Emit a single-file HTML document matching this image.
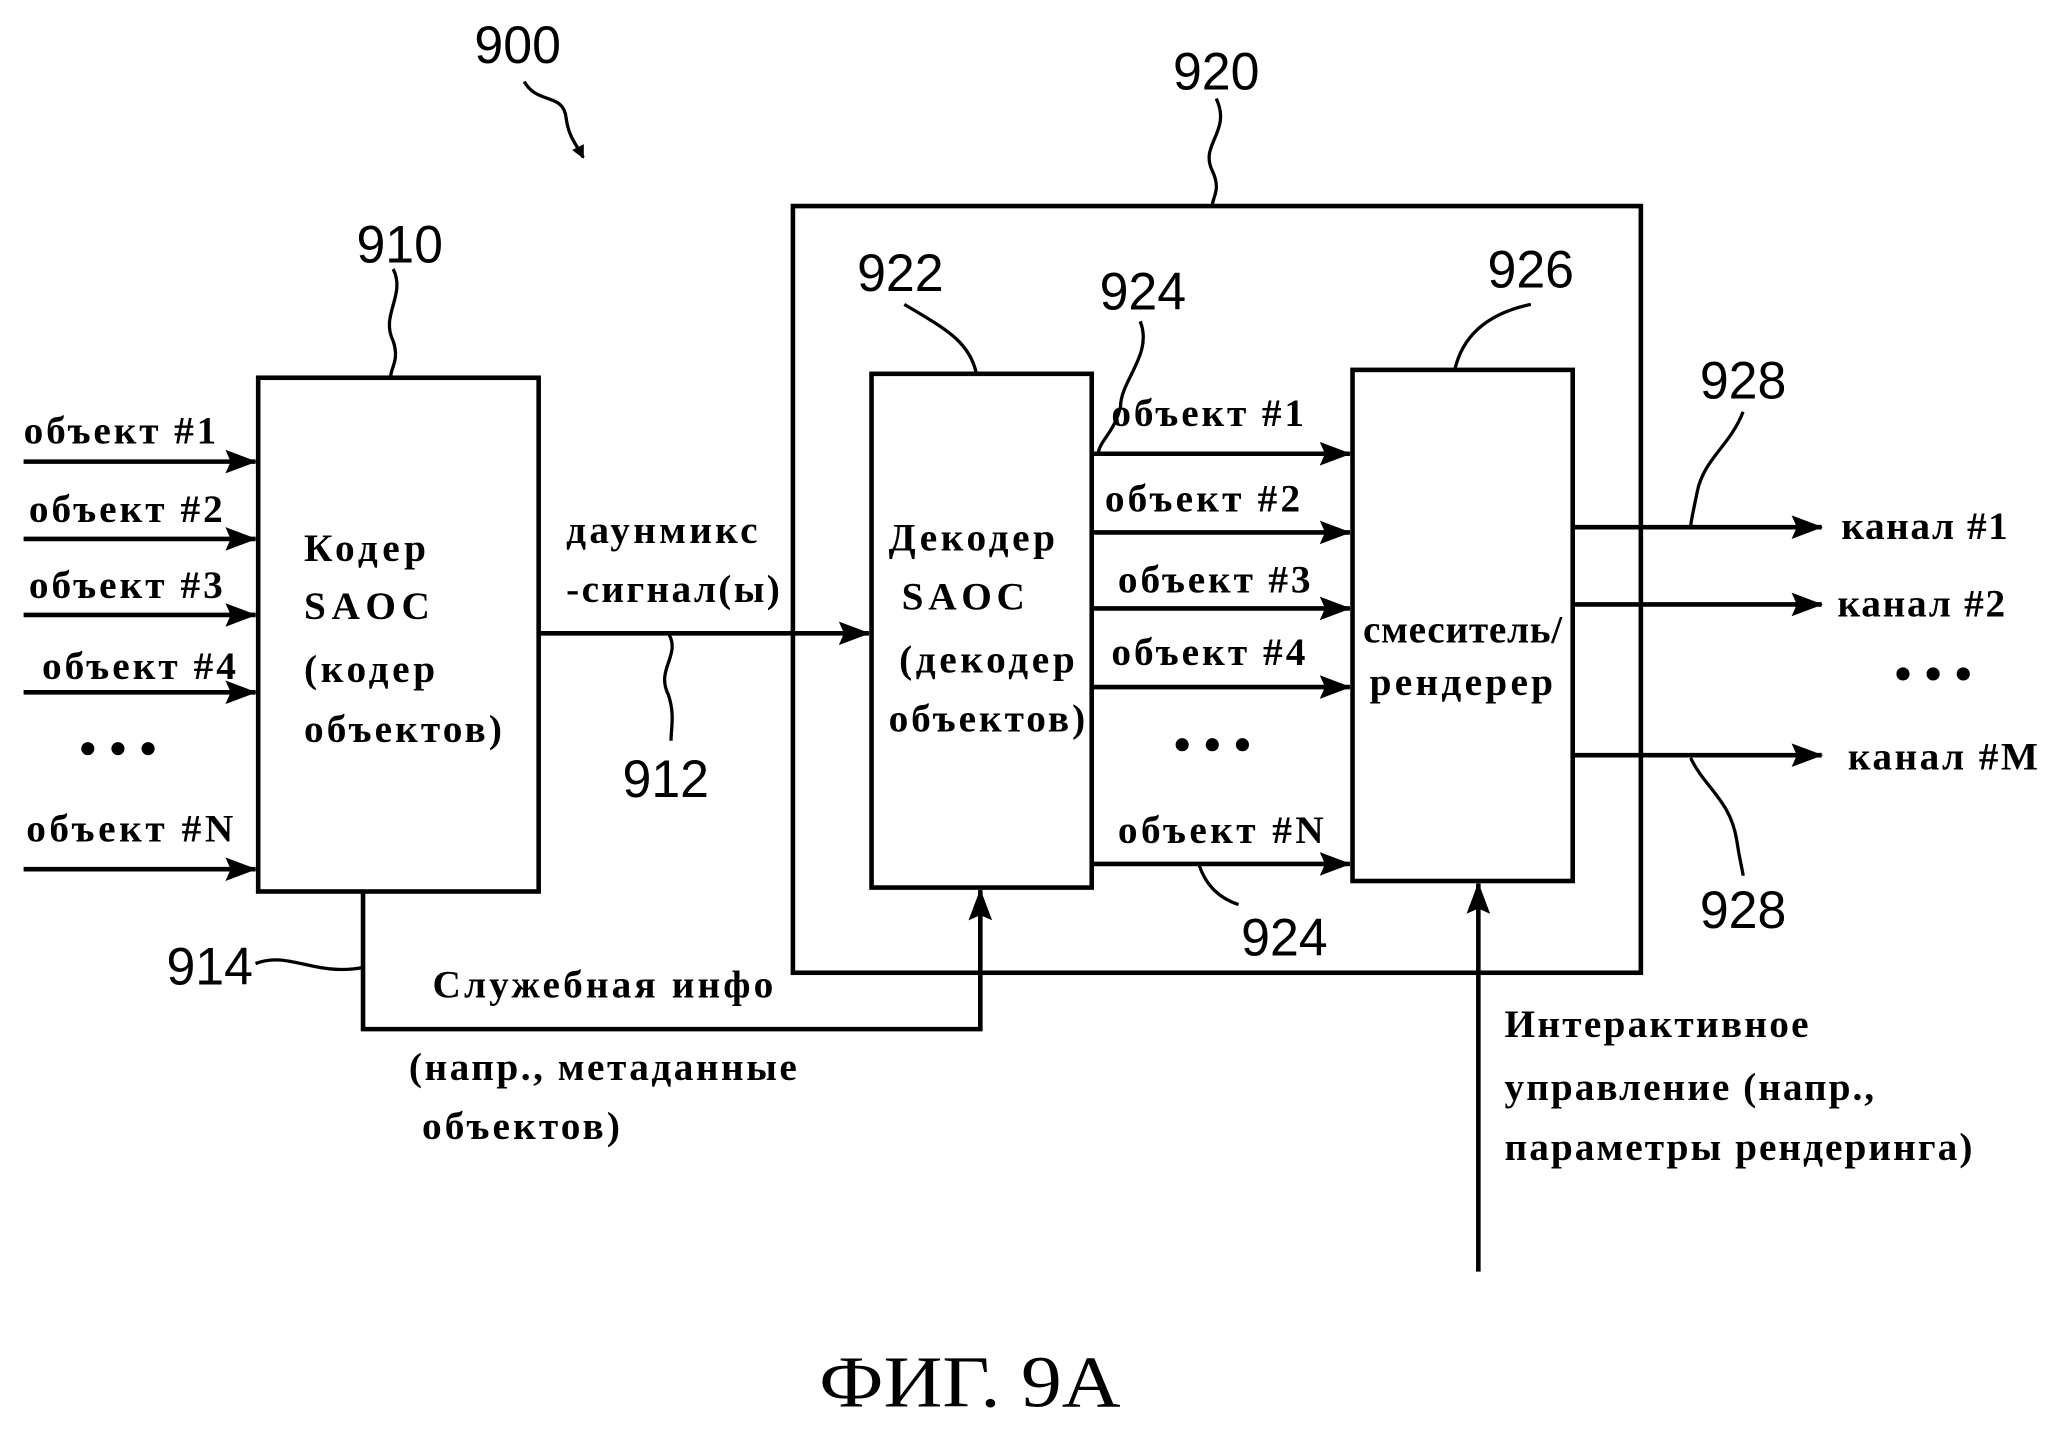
<!DOCTYPE html>
<html><head><meta charset="utf-8"><style>html,body{margin:0;padding:0;background:#fff}svg{display:block}</style></head>
<body>
<svg width="2055" height="1437" viewBox="0 0 1568 1096" xmlns="http://www.w3.org/2000/svg">
<defs><marker id="a" markerWidth="10" markerHeight="10" refX="9" refY="5" orient="auto" markerUnits="userSpaceOnUse" viewBox="0 0 10 10"><path d="M0,0 L10,5 L0,10 z" fill="#000"/></marker>
<marker id="b" markerWidth="24" markerHeight="18" refX="23" refY="9" orient="auto" markerUnits="userSpaceOnUse"><path d="M0,0 L24,9 L0,18 L4,9z" fill="#000"/></marker></defs>
<g fill="none" stroke="#000" stroke-width="3.5">
<rect x="605" y="157" width="647" height="585"/>
<rect x="197" y="288" width="214" height="392"/>
<rect x="665" y="285" width="168" height="392"/>
<rect x="1032" y="282" width="168" height="390"/>
</g>
<g stroke="#000" stroke-width="3.5" marker-end="url(#b)">
<line x1="18" y1="352" x2="195" y2="352"/><line x1="18" y1="411" x2="195" y2="411"/><line x1="18" y1="469" x2="195" y2="469"/><line x1="18" y1="528" x2="195" y2="528"/><line x1="18" y1="663" x2="195" y2="663"/>
<line x1="411" y1="483" x2="663" y2="483"/>
<line x1="833" y1="346" x2="1030" y2="346"/><line x1="833" y1="406" x2="1030" y2="406"/><line x1="833" y1="464" x2="1030" y2="464"/><line x1="833" y1="524" x2="1030" y2="524"/><line x1="833" y1="659" x2="1030" y2="659"/>
<line x1="1200" y1="402" x2="1390" y2="402"/><line x1="1200" y1="461" x2="1390" y2="461"/><line x1="1200" y1="576" x2="1390" y2="576"/>
<polyline fill="none" points="277,680 277,785 748,785 748,679"/>
<line x1="1128" y1="970" x2="1128" y2="674"/>
</g>
<g fill="none" stroke="#000" stroke-width="2.5">
<path d="M400,62 C410,80 430,70 432,90 C434,105 440,110 445,120" marker-end="url(#a)"/>
<path d="M928,75 C940,100 915,110 925,130 C932,145 925,150 925,157"/>
<path d="M300,205 C310,225 290,240 300,260 C305,275 298,280 298,288"/>
<path d="M690,232 C720,250 740,260 745,285"/>
<path d="M870,245 C880,270 855,290 855,310 C850,330 840,335 838,345"/>
<path d="M1168,232 C1130,240 1115,260 1110,282"/>
<path d="M1330,314 C1320,340 1300,350 1295,375 C1292,390 1290,398 1290,402"/>
<path d="M1290,578 C1300,600 1320,610 1325,640 C1328,660 1330,665 1330,668"/>
<path d="M510,483 C520,500 500,510 510,530 C515,545 512,555 512,565"/>
<path d="M915,660 C920,675 930,685 945,690"/>
<path d="M195,735 C220,725 240,745 277,738"/>
</g>
<g fill="#000">
<circle cx="67" cy="571" r="5"/><circle cx="90" cy="571" r="5"/><circle cx="113" cy="571" r="5"/>
<circle cx="902" cy="568" r="5"/><circle cx="925" cy="568" r="5"/><circle cx="948" cy="568" r="5"/>
<circle cx="1452" cy="514" r="5"/><circle cx="1475" cy="514" r="5"/><circle cx="1498" cy="514" r="5"/>
</g>
<g font-family="Liberation Sans, sans-serif" font-size="40" fill="#000" text-anchor="middle">
<text x="395" y="48" textLength="66" lengthAdjust="spacingAndGlyphs">900</text>
<text x="928" y="68" textLength="66" lengthAdjust="spacingAndGlyphs">920</text>
<text x="305" y="200" textLength="66" lengthAdjust="spacingAndGlyphs">910</text>
<text x="687" y="222" textLength="66" lengthAdjust="spacingAndGlyphs">922</text>
<text x="872" y="236" textLength="66" lengthAdjust="spacingAndGlyphs">924</text>
<text x="1168" y="219" textLength="66" lengthAdjust="spacingAndGlyphs">926</text>
<text x="1330" y="304" textLength="66" lengthAdjust="spacingAndGlyphs">928</text>
<text x="1330" y="708" textLength="66" lengthAdjust="spacingAndGlyphs">928</text>
<text x="508" y="608" textLength="66" lengthAdjust="spacingAndGlyphs">912</text>
<text x="980" y="729" textLength="66" lengthAdjust="spacingAndGlyphs">924</text>
<text x="160" y="751" textLength="66" lengthAdjust="spacingAndGlyphs">914</text>
</g>
<g font-family="Liberation Serif, serif" font-size="30" font-weight="bold" fill="#000" lengthAdjust="spacingAndGlyphs">
<text x="18" y="338" textLength="147">объект #1</text><text x="22" y="398" textLength="148">объект #2</text><text x="22" y="456" textLength="148">объект #3</text><text x="32" y="518" textLength="148">объект #4</text><text x="20" y="642" textLength="158">объект #N</text>
<text x="232" y="428" textLength="93">Кодер</text><text x="232" y="472" textLength="96">SAOC</text><text x="232" y="520" textLength="100">(кодер</text><text x="232" y="566" textLength="151">объектов)</text>
<text x="432" y="414" textLength="146">даунмикс</text><text x="432" y="459" textLength="163">-сигнал(ы)</text>
<text x="678" y="420" textLength="127">Декодер</text><text x="688" y="465" textLength="94">SAOC</text><text x="686" y="513" textLength="134">(декодер</text><text x="678" y="558" textLength="150">объектов)</text>
<text x="848" y="325" textLength="147">объект #1</text><text x="843" y="390" textLength="149">объект #2</text><text x="853" y="452" textLength="147">объект #3</text><text x="848" y="507" textLength="148">объект #4</text><text x="853" y="643" textLength="157">объект #N</text>
<text x="1040" y="490" textLength="152">смеситель/</text><text x="1045" y="530" textLength="140">рендерер</text>
<text x="1405" y="411" textLength="127">канал #1</text><text x="1402" y="470" textLength="128">канал #2</text><text x="1410" y="587" textLength="145">канал #M</text>
<text x="330" y="761" textLength="260">Служебная инфо</text><text x="312" y="824" textLength="296">(напр., метаданные</text><text x="322" y="869" textLength="151">объектов)</text>
<text x="1148" y="791" textLength="232">Интерактивное</text><text x="1148" y="839" textLength="282">управление (напр.,</text><text x="1148" y="885" textLength="357">параметры рендеринга)</text>
</g>
<text x="625" y="1073" font-family="Liberation Serif, serif" font-size="56" fill="#000" textLength="230" lengthAdjust="spacingAndGlyphs">ФИГ. 9А</text>
</svg>
</body></html>
